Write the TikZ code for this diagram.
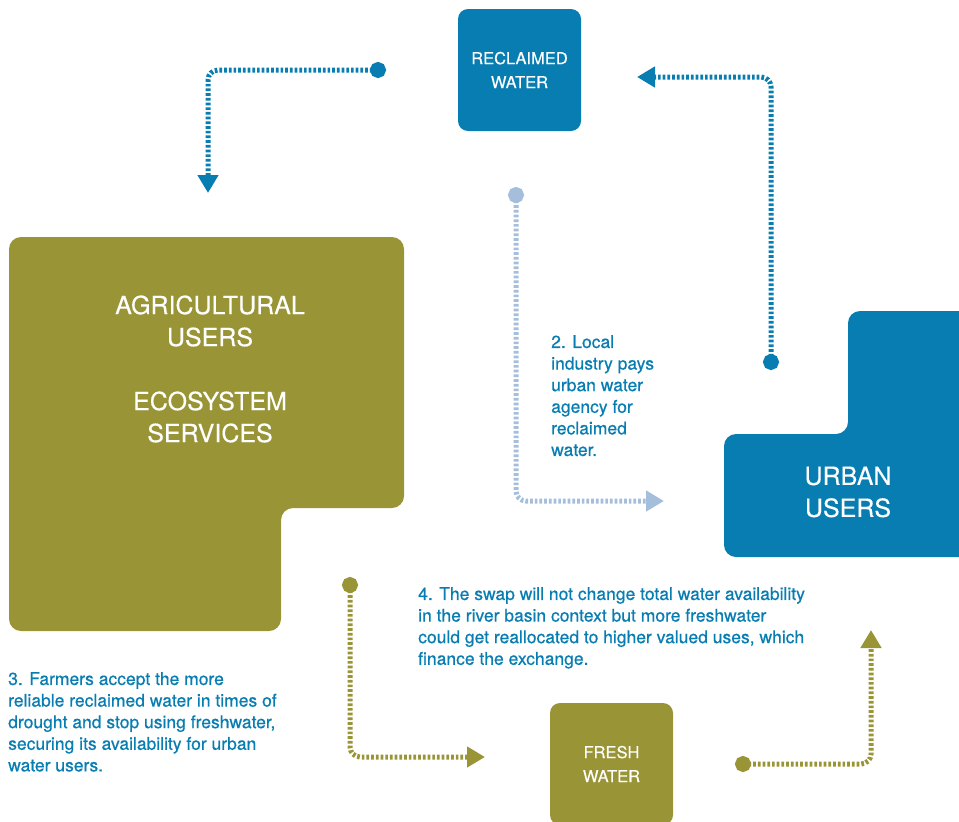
\documentclass[tikz,border=0pt]{standalone}
\usepackage{fontspec}
\setmainfont{TeX Gyre Heros}
\usepackage{xcolor}
\usepackage{tikz}
\usetikzlibrary{arrows.meta,positioning}
\definecolor{swapblue}{HTML}{087DB2}
\definecolor{swapolive}{HTML}{999436}
\definecolor{swappale}{HTML}{A4BEDB}
\tikzset{
  waterbox/.style={
    rounded corners=10pt,
    minimum width=123pt,
    minimum height=122pt,
    inner sep=0pt,
    align=center,
    text=white,
    font=\fontsize{16.5}{24}\selectfont\addfontfeature{FakeBold=0.3}
  },
  userarea/.style={
    rounded corners=12pt
  },
  usertext/.style={
    align=center,
    text=white,
    inner sep=0pt,
    font=\fontsize{25}{32}\selectfont\addfontfeature{FakeBold=0.3}
  },
  note/.style={
    align=left,
    text=swapblue,
    inner sep=0pt,
    anchor=north west,
    font=\fontsize{17.5}{21.6}\selectfont\addfontfeature{FakeBold=0.6}
  },
  flowline/.style={
    {Circle[length=16pt]}-{Triangle[length=18pt,width=20pt]},
    line width=5pt,
    dash pattern=on 2.7pt off 2pt,
    rounded corners=10pt
  }
}
\begin{document}
\begin{tikzpicture}[x=1pt, y=-1pt]
  \useasboundingbox (0,0) rectangle (959,822);
  \clip (0,0) rectangle (959,822);

  \fill[userarea, swapolive] (9,237) -- (404,237) -- (404,508) -- (281,508)
    -- (281,631) -- (9,631) -- cycle;
  \node[usertext] (agri) at (210,369)
    {AGRICULTURAL\\USERS\\[32pt]ECOSYSTEM\\SERVICES};

  \fill[userarea, swapblue] (848,311) -- (980,311) -- (980,557) -- (724,557)
    -- (724,434) -- (848,434) -- cycle;
  \node[usertext] (urban) at (848,492) {URBAN\\USERS};

  \node[waterbox, fill=swapblue] (reclaimed) at (519.5,70) {RECLAIMED\\WATER};
  \node[waterbox, fill=swapolive] (fresh) at (611.5,764) {FRESH\\WATER};

  \coordinate (toagri-s) at (386,70);
  \coordinate (toagri-e) at (208,193);
  \coordinate (torecl-s) at (771,370);
  \coordinate (torecl-e) at (637,77);
  \coordinate (pay-s) at (516,187);
  \coordinate (pay-e) at (664,501);
  \coordinate (tofresh-s) at (350,577);
  \coordinate (tofresh-e) at (485,757);
  \coordinate (tourban-s) at (735,764);
  \coordinate (tourban-e) at (871,630);

  \draw[flowline, draw=swapblue] (toagri-s) -| (toagri-e);
  \draw[flowline, draw=swapblue] (torecl-s) |- (torecl-e);
  \draw[flowline, draw=swappale] (pay-s) |- (pay-e);
  \draw[flowline, draw=swapolive] (tofresh-s) |- (tofresh-e);
  \draw[flowline, draw=swapolive] (tourban-s) -| (tourban-e);

  \node[note] (note2) at (551,335)
    {2. Local\\industry pays\\urban water\\agency for\\reclaimed\\water.};
  \node[note] (note4) at (418,587)
    {4. The swap will not change total water availability\\in the river basin context but more freshwater\\could get reallocated to higher valued uses, which\\finance the exchange.};
  \node[note] (note3) at (8,672)
    {3. Farmers accept the more\\reliable reclaimed water in times of\\drought and stop using freshwater,\\securing its availability for urban\\water users.};
\end{tikzpicture}
\end{document}
